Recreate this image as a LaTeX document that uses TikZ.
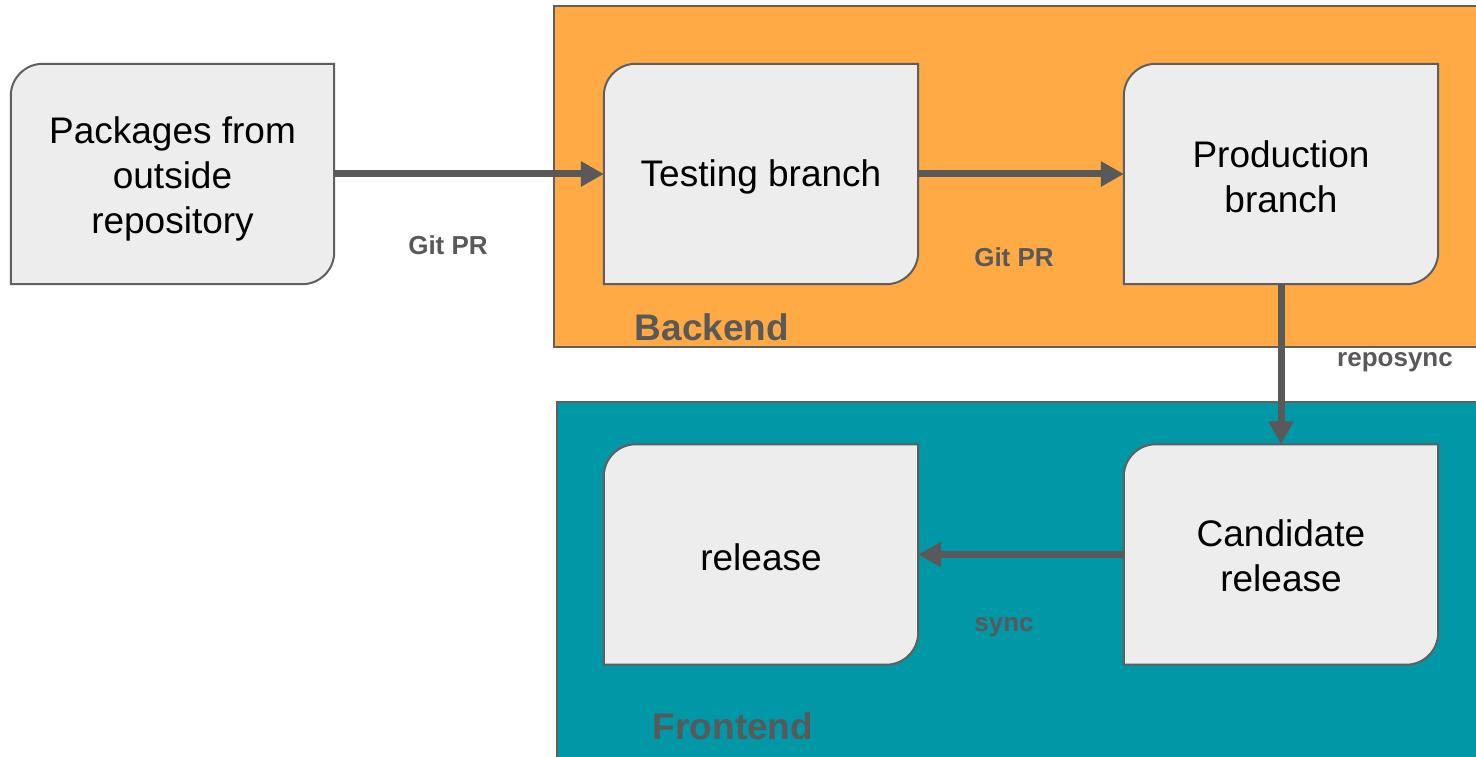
\documentclass[tikz,border=0pt]{standalone}
\usepackage{fontspec}
\setmainfont{Liberation Sans}
\usetikzlibrary{arrows.meta}
\definecolor{orangebg}{HTML}{FFAA44}
\definecolor{tealbg}{HTML}{0097A7}
\definecolor{boxfill}{HTML}{EDEDED}
\definecolor{edge}{HTML}{5F5F5F}
\definecolor{lbl}{HTML}{595959}
\pgfdeclarelayer{bg}
\pgfdeclarelayer{shapes}
\pgfsetlayers{bg,shapes,main}
\tikzset{
  stage/.style={minimum width=314pt, minimum height=220pt, inner sep=0pt},
  stagetext/.style={align=center, yshift=-3pt, inner sep=0pt,
    font=\fontsize{37}{45}\selectfont, text=black},
  section/.style={fill=#1, draw=edge, line width=2pt},
  flow/.style={draw=lbl, line width=7pt, -{Triangle[length=23pt,width=24pt]}},
  edgelabel/.style={font=\bfseries\fontsize{26}{30}\selectfont, text=lbl},
  grouplabel/.style={font=\bfseries\fontsize{37}{43}\selectfont, text=lbl},
}
\newcommand\tabshape[1]{%
  \draw[fill=boxfill, draw=edge, line width=2pt]
    (#1.south west) -- ([yshift=-32pt]#1.north west)
    arc[start angle=180, end angle=90, radius=32pt]
    -- (#1.north east) -- ([yshift=32pt]#1.south east)
    arc[start angle=0, end angle=-90, radius=32pt] -- cycle;}
\begin{document}
\begin{tikzpicture}[x=1pt,y=1pt]
\useasboundingbox (0,0) rectangle (1476,-757);
\clip (0,0) rectangle (1476,-757);
% groups
\begin{pgfonlayer}{bg}
  \fill[white] (0,0) rectangle (1476,-757);
  \draw[section=orangebg] (554,-6) rectangle (1490,-347);
  \draw[section=tealbg] (557,-402) rectangle (1490,-780);
\end{pgfonlayer}
% stages
\node[stage, minimum width=323pt, label={[stagetext, yshift=-2pt]center:{Packages from\\outside\\repository}}] (pkg) at (172.5,-174) {};
\node[stage, label={[stagetext]center:{Testing branch}}] (test) at (761,-174) {};
\node[stage, label={[stagetext]center:{Production\\branch}}] (prod) at (1281,-174) {};
\node[stage, label={[stagetext]center:{release}}] (rel) at (761,-554.5) {};
\node[stage, label={[stagetext, yshift=2pt]center:{Candidate\\release}}] (cand) at (1281,-554.5) {};
\begin{pgfonlayer}{shapes}
  \tabshape{pkg}
  \tabshape{test}
  \tabshape{prod}
  \tabshape{rel}
  \tabshape{cand}
\end{pgfonlayer}
% connectors
\draw[flow] (pkg.east) -- (test.west);
\draw[flow] (test.east) -- (prod.west);
\draw[flow] (prod.south) -- (cand.north);
\draw[flow] (cand.west) -- (rel.east);
% labels
\node[edgelabel] (l1) at (448,-245) {Git PR};
\node[edgelabel] (l2) at (1014,-257) {Git PR};
\node[edgelabel] (l3) at (1395,-362) {reposync};
\node[edgelabel] (l4) at (1004,-627) {sync};
\node[grouplabel] (g1) at (712,-327) {Backend};
\node[grouplabel] (g2) at (733,-726) {Frontend};
\end{tikzpicture}
\end{document}
